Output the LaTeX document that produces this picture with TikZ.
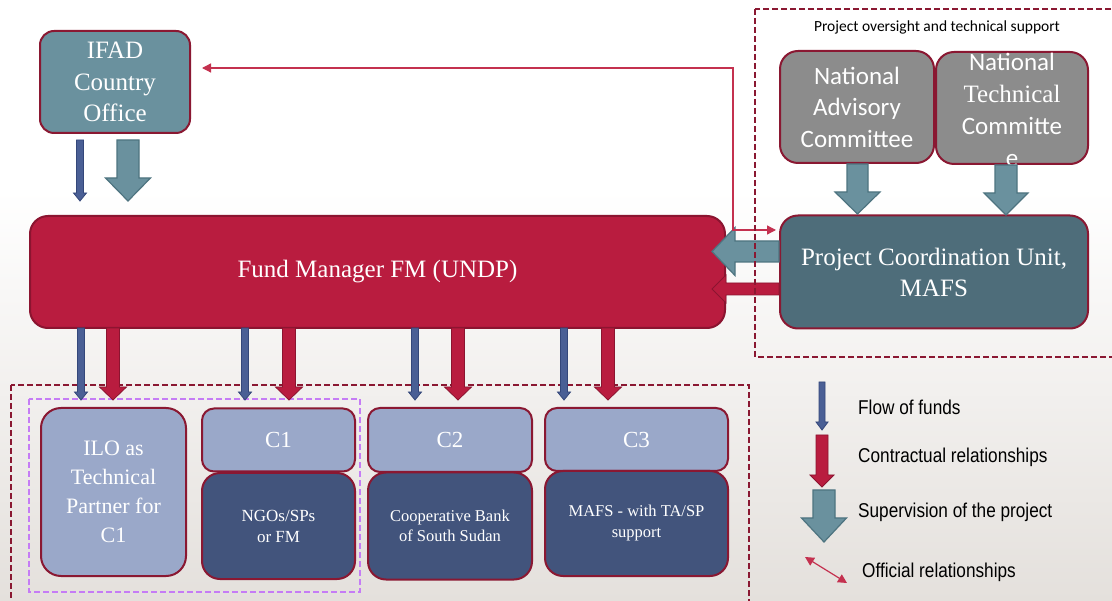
\documentclass[tikz,border=0pt]{standalone}
\usepackage{fontspec}
\setmainfont{Liberation Serif}
\newfontfamily\calib{Carlito}
\newfontfamily\serifl{Liberation Serif}
\newfontfamily\legfont[FakeStretch=0.86]{Liberation Sans}
\usetikzlibrary{arrows.meta}
\definecolor{bgbot}{HTML}{E4E0DC}
\definecolor{bord}{HTML}{8A1832}
\definecolor{ifadc}{HTML}{6A919E}
\definecolor{tealb}{HTML}{4E7480}
\definecolor{fmred}{HTML}{B91C3F}
\definecolor{redb}{HTML}{8B1430}
\definecolor{grayc}{HTML}{8C8C8C}
\definecolor{pcuc}{HTML}{4E6D7A}
\definecolor{lightb}{HTML}{9AA8C9}
\definecolor{darkb}{HTML}{42547C}
\definecolor{bluea}{HTML}{4A5F95}
\definecolor{blueb}{HTML}{34477A}
\definecolor{offc}{HTML}{C4314F}
\definecolor{purp}{HTML}{C57CF5}
\newcommand{\dnarrow}[7]{%
  \filldraw[#1] ({#2-#5},#3) -- ({#2+#5},#3) -- ({#2+#5},{#4-#7}) -- ({#2+#6},{#4-#7}) -- (#2,#4) -- ({#2-#6},{#4-#7}) -- ({#2-#5},{#4-#7}) -- cycle;}
\newcommand{\lfarrow}[7]{%
  \filldraw[#1] (#3,{#2-#5}) -- (#3,{#2+#5}) -- ({#4+#7},{#2+#5}) -- ({#4+#7},{#2+#6}) -- (#4,#2) -- ({#4+#7},{#2-#6}) -- ({#4+#7},{#2-#5}) -- cycle;}
\tikzset{
  box/.style={draw=bord, line width=2pt, rounded corners=14pt, text=white, align=center, inner sep=0pt},
  bluearr/.style={fill=bluea, draw=blueb, line width=0.8pt},
  redarr/.style={fill=fmred, draw=redb, line width=0.8pt},
  tealarr/.style={fill=ifadc, draw=tealb, line width=1.2pt},
  dashbox/.style={draw=bord, line width=1.8pt, dash pattern=on 6pt off 3pt},
  purpbox/.style={draw=purp, line width=1.8pt, dash pattern=on 6pt off 3pt},
  official/.style={draw=offc, line width=1.3pt, {Triangle[length=9pt,width=9pt]}-{Triangle[length=9pt,width=9pt]}},
  legtext/.style={anchor=west, inner sep=0pt, font=\legfont\fontsize{20}{24}\selectfont},
}
\begin{document}
\begin{tikzpicture}[x=1pt,y=-1pt]
\useasboundingbox (0,0) rectangle (1112,601);
\clip (0,0) rectangle (1112,601);
% background
\fill[white] (0,0) rectangle (1112,190);
\shade[top color=white, bottom color=bgbot] (0,190) rectangle (1112,601);

% dashed groups (bottom)
\draw[dashbox] (11,385) rectangle (749,603);
\draw[purpbox] (29,399) rectangle (360,592);

% top boxes
\node[box, fill=ifadc, minimum width=150pt, minimum height=102pt, font=\fontsize{25}{31.5}\selectfont] (ifad) at (115,82) {IFAD\\Country\\Office};
\node[box, fill=fmred, draw=redb, rounded corners=18pt, minimum width=695pt, minimum height=112pt, font=\fontsize{25}{31}\selectfont] (fm) at (377.5,272) {Fund Manager FM (UNDP)};
\node[box, fill=grayc, rounded corners=18pt, minimum width=154pt, minimum height=112pt, font=\calib\fontsize{25}{31.5}\selectfont] (nac) at (857,107) {National\\Advisory\\Committee};
\node[box, fill=grayc, rounded corners=18pt, minimum width=152pt, minimum height=112pt] (ntc) at (1012,108) {};
\node[text=white, align=center, inner sep=0pt, font=\fontsize{25}{32}\selectfont] (ntct) at (1012,110) {\relax\calib National\\\serifl Technical\\\calib Committe\\\calib e};
\node[box, fill=pcuc, rounded corners=18pt, minimum width=308pt, minimum height=113pt, font=\fontsize{25}{31}\selectfont] (pcu) at (934,272) {Project Coordination Unit,\\MAFS};

\node[inner sep=0pt, font=\calib\fontsize{15.5}{18}\selectfont] (ovs) at (937,27) {Project oversight and technical support};

% bottom boxes
\node[box, fill=lightb, rounded corners=20pt, minimum width=145pt, minimum height=168pt, font=\fontsize{22}{29}\selectfont] (ilo) at (113.5,492) {ILO as\\Technical\\Partner for\\C1};
\node[box, fill=lightb, rounded corners=12pt, minimum width=153pt, minimum height=63pt, font=\fontsize{23}{28}\selectfont] (c1h) at (278.5,440) {C1};
\node[box, fill=darkb, rounded corners=18pt, minimum width=153pt, minimum height=106pt, font=\fontsize{17}{21}\selectfont] (c1b) at (278.5,526) {NGOs/SPs\\or FM};
\node[box, fill=lightb, rounded corners=12pt, minimum width=164pt, minimum height=64pt, font=\fontsize{23}{28}\selectfont] (c2h) at (450,440) {C2};
\node[box, fill=darkb, rounded corners=18pt, minimum width=164pt, minimum height=107pt, font=\fontsize{16.5}{20}\selectfont] (c2b) at (450,526) {Cooperative Bank\\of South Sudan};
\node[box, fill=lightb, rounded corners=12pt, minimum width=183pt, minimum height=63pt, font=\fontsize{23}{28}\selectfont] (c3h) at (636.5,439.5) {C3};
\node[box, fill=darkb, rounded corners=18pt, minimum width=183pt, minimum height=105pt, font=\fontsize{16.5}{21}\selectfont] (c3b) at (636.5,523.5) {MAFS - with TA/SP\\support};

% arrows IFAD -> FM
\dnarrow{bluearr}{80}{140}{201}{3.5}{6.5}{8}
\dnarrow{tealarr}{128}{140}{201}{11}{22.5}{23}
% arrows FM -> components
\dnarrow{bluearr}{81}{328}{400}{3.5}{6.5}{8}
\dnarrow{redarr}{113}{328}{400}{6.5}{13.5}{13}
\dnarrow{bluearr}{245}{328}{400}{3.5}{6.5}{8}
\dnarrow{redarr}{289}{328}{400}{6.5}{13.5}{13}
\dnarrow{bluearr}{415}{328}{400}{3.5}{6.5}{8}
\dnarrow{redarr}{458}{328}{400}{6.5}{13.5}{13}
\dnarrow{bluearr}{564}{328}{400}{3.5}{6.5}{8}
\dnarrow{redarr}{608}{328}{400}{6.5}{13.5}{13}
% committees -> PCU
\dnarrow{tealarr}{857.5}{164}{214}{10.5}{22.5}{22}
\dnarrow{tealarr}{1006}{165}{215}{11}{22}{22}
% PCU -> FM
\lfarrow{tealarr}{251.5}{779}{712}{10.5}{24}{23}
\lfarrow{redarr}{289}{779}{712}{6}{14}{14}

% official relationship
\coordinate (o1) at (202,68);
\coordinate (o2) at (733,68);
\coordinate (o3) at (733,230);
\coordinate (o4) at (776,230);
\draw[official] (o1) -- (o2) -- (o3) -- (o4);

% right dashed group
\draw[dashbox] (755,9) rectangle (1116,357);

% legend
\dnarrow{bluearr}{822}{382}{430}{3}{6}{8}
\dnarrow{redarr}{822}{435}{487}{6}{12}{12}
\dnarrow{tealarr}{824}{490}{542}{11}{22.5}{24}
\coordinate (l1) at (805,557);
\coordinate (l2) at (847,583);
\draw[official, line width=1.2pt] (l1) -- (l2);
\node[legtext] (lg1) at (858,407) {Flow of funds};
\node[legtext] (lg2) at (858,457) {Contractual relationships};
\node[legtext] (lg3) at (858,512) {Supervision of the project};
\node[legtext] (lg4) at (862,572) {Official relationships};
\end{tikzpicture}
\end{document}
